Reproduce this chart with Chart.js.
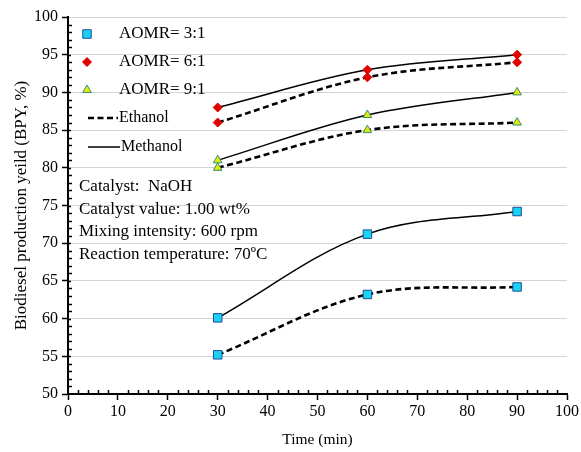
<!DOCTYPE html>
<html lang="en">
<head>
    <meta charset="UTF-8" />
    <title>Biodiesel production yield vs time</title>
    <script src="https://cdn.jsdelivr.net/npm/chart.js"></script>
    <style>
        body {
            margin: 0;
            background: #fff;
        }
        #wrap {
            width: 581px;
            height: 452px;
            position: relative;
        }
    </style>
</head>
<body>
    <div id="wrap">
        <canvas id="yieldChart"></canvas>
    </div>

    <script>
        // Reaction time (min)
        const times = [30, 60, 90];

        // Biodiesel yield (%) for each alcohol/oil molar ratio
        const methanol_3_1 = [60.1, 71.2, 74.2];
        const ethanol_3_1 = [55.2, 63.2, 64.2];
        const methanol_6_1 = [88, 93, 95];
        const ethanol_6_1 = [86, 92, 94];
        const methanol_9_1 = [81, 87, 90];
        const ethanol_9_1 = [80, 85, 86];

        const ratioLabels = ['AOMR= 3:1', 'AOMR= 6:1', 'AOMR= 9:1'];
        const notes = [
            'Catalyst:  NaOH',
            'Catalyst value: 1.00 wt%',
            'Mixing intensity: 600 rpm',
            'Reaction temperature: 70\u00BAC'
        ];

        const SERIF = '"Liberation Serif", "Times New Roman", serif';

        const markers = [
            { pointStyle: 'rect', radius: 6, backgroundColor: '#19d3f0', borderColor: '#1c4f9c' },
            { pointStyle: 'rectRot', radius: 4.5, backgroundColor: '#e00000', borderColor: '#e00000' },
            { pointStyle: 'triangle', radius: 5, backgroundColor: '#e8e800', borderColor: '#2f8f7a' }
        ];

        function toPoints(values) {
            return values.map((v, i) => ({ x: times[i], y: v }));
        }

        function series(values, marker, dashed) {
            return {
                data: toPoints(values),
                borderColor: '#000',
                borderWidth: dashed ? 2.6 : 1.5,
                borderDash: dashed ? [6, 3.5] : [],
                tension: 0.35,
                fill: false,
                pointStyle: marker.pointStyle,
                pointRadius: marker.radius,
                pointBackgroundColor: marker.backgroundColor,
                pointBorderColor: marker.borderColor,
                pointBorderWidth: 1
            };
        }

        // minor tick marks on both axes, drawn inside the plot area
        const minorTicks = {
            id: 'minorTicks',
            afterDraw(chart) {
                const { ctx, chartArea, scales } = chart;
                const x = scales.x, y = scales.y;
                ctx.save();
                ctx.strokeStyle = '#000';
                ctx.lineWidth = 1.5;
                ctx.beginPath();
                for (let v = 51; v < 100; v++) {
                    const py = Math.round(y.getPixelForValue(v)) + 0.5;
                    const len = v % 5 === 0 ? 3 : 4;
                    ctx.moveTo(chartArea.left, py);
                    ctx.lineTo(chartArea.left + len, py);
                }
                for (let v = 2; v < 100; v += 2) {
                    if (v % 10 === 0) continue;
                    const px = Math.round(x.getPixelForValue(v)) + 0.5;
                    ctx.moveTo(px, chartArea.bottom);
                    ctx.lineTo(px, chartArea.bottom - 4);
                }
                ctx.stroke();
                ctx.restore();
            }
        };

        // legend and test conditions placed inside the plot
        const insideLegend = {
            id: 'insideLegend',
            afterDraw(chart) {
                const ctx = chart.ctx;
                ctx.save();
                ctx.fillStyle = '#000';
                ctx.textBaseline = 'middle';
                ctx.textAlign = 'left';

                const rows = [34, 62, 90];
                ctx.font = '17px ' + SERIF;
                ratioLabels.forEach((label, i) => {
                    const m = markers[i];
                    ctx.fillStyle = m.backgroundColor;
                    ctx.strokeStyle = m.borderColor;
                    ctx.lineWidth = 1;
                    Chart.helpers.drawPoint(ctx, {
                        pointStyle: m.pointStyle,
                        radius: m.radius,
                        rotation: 0,
                        borderWidth: 1
                    }, 87, rows[i]);
                    ctx.fillStyle = '#000';
                    ctx.fillText(label, 119, rows[i]);
                });

                ctx.font = '16px ' + SERIF;
                ctx.strokeStyle = '#000';
                ctx.lineWidth = 2.6;
                ctx.setLineDash([6, 3.5]);
                ctx.beginPath();
                ctx.moveTo(88, 118);
                ctx.lineTo(118, 118);
                ctx.stroke();
                ctx.fillText('Ethanol', 119, 118);

                ctx.lineWidth = 1.5;
                ctx.setLineDash([]);
                ctx.beginPath();
                ctx.moveTo(88, 147);
                ctx.lineTo(120, 147);
                ctx.stroke();
                ctx.fillText('Methanol', 121, 147);

                ctx.font = '17px ' + SERIF;
                notes.forEach((t, i) => {
                    ctx.fillText(t, 79, 187 + i * 22.5);
                });
                ctx.restore();
            }
        };

        new Chart(document.getElementById('yieldChart'), {
            type: 'line',
            data: {
                datasets: [
                    series(methanol_3_1, markers[0], false),
                    series(ethanol_3_1, markers[0], true),
                    series(methanol_6_1, markers[1], false),
                    series(ethanol_6_1, markers[1], true),
                    series(methanol_9_1, markers[2], false),
                    series(ethanol_9_1, markers[2], true)
                ]
            },
            options: {
                responsive: true,
                maintainAspectRatio: false,
                animation: false,
                layout: {
                    padding: { top: 17, right: 12, left: 0, bottom: 0 }
                },
                plugins: {
                    legend: { display: false },
                    tooltip: { enabled: false }
                },
                scales: {
                    x: {
                        type: 'linear',
                        min: 0,
                        max: 100,
                        ticks: {
                            stepSize: 10,
                            color: '#000',
                            padding: 2,
                            maxRotation: 0,
                            font: { family: SERIF, size: 16 }
                        },
                        grid: {
                            drawOnChartArea: false,
                            tickColor: '#000',
                            tickLength: 6,
                            tickWidth: 1.5
                        },
                        border: { color: '#000', width: 2 },
                        title: {
                            display: true,
                            text: 'Time (min)',
                            color: '#000',
                            padding: { top: 0, bottom: 3 },
                            font: { family: SERIF, size: 15.5 }
                        },
                        afterFit(scale) {
                            scale.height = 58;
                        }
                    },
                    y: {
                        min: 50,
                        max: 100,
                        ticks: {
                            stepSize: 5,
                            color: '#000',
                            padding: 4,
                            font: { family: SERIF, size: 16 }
                        },
                        grid: {
                            color: '#d4d4d4',
                            lineWidth: 1,
                            tickColor: '#000',
                            tickLength: 6,
                            tickWidth: 1.5
                        },
                        border: { color: '#000', width: 2 },
                        title: {
                            display: true,
                            text: 'Biodiesel production yeild (BPY, %)',
                            color: '#000',
                            padding: { top: 11, bottom: 0 },
                            font: { family: SERIF, size: 17 }
                        },
                        afterFit(scale) {
                            scale.width = 68;
                        }
                    }
                }
            },
            plugins: [minorTicks, insideLegend]
        });
    </script>
</body>
</html>
